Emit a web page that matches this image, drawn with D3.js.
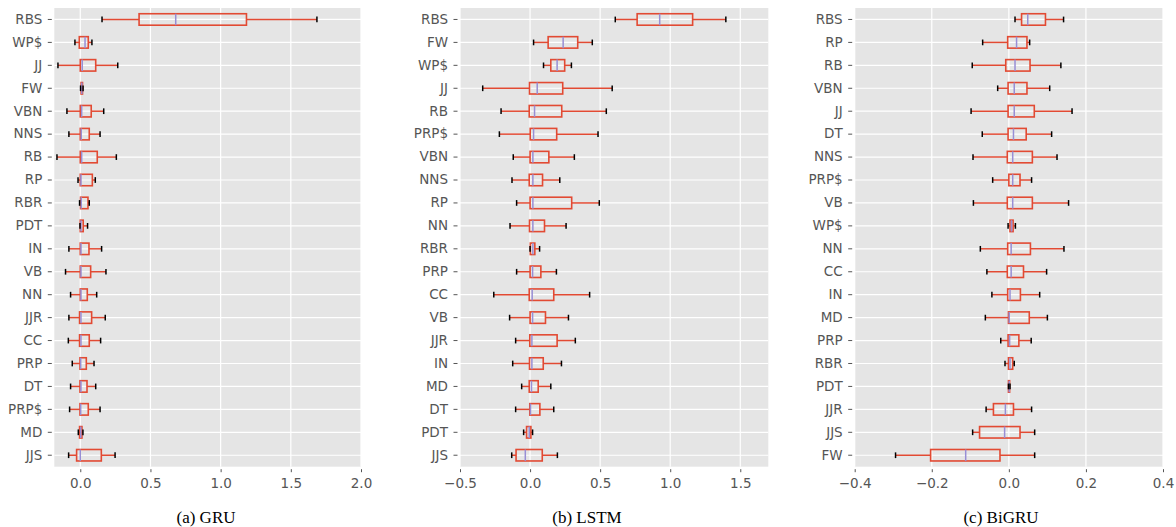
<!DOCTYPE html>
<meta charset="utf-8">
<style>
    body { margin: 0; background: #fff; }
    text { font-family: "DejaVu Sans"; fill: #555555; }
    .caption { font-family: "Liberation Serif"; fill: #000; font-size: 17px; }
</style>
<svg width="1176" height="527"></svg>
<script src="https://d3js.org/d3.v7.min.js"></script>
<script>

// (a) GRU
var gruCats = ["RBS", "WP$", "JJ", "FW", "VBN", "NNS", "RB", "RP", "RBR", "PDT",
               "IN", "VB", "NN", "JJR", "CC", "PRP", "DT", "PRP$", "MD", "JJS"];
var gruLo  = [0.155, -0.038, -0.159, 0.002, -0.095, -0.081, -0.166, -0.016, -0.005, -0.002,
              -0.081, -0.105, -0.069, -0.081, -0.085, -0.057, -0.069, -0.076, -0.014, -0.083];
var gruQ1  = [0.419, -0.007, 0.0, 0.006, 0.0, 0.0, 0.0, 0.0, 0.002, 0.0,
              0.0, 0.0, 0.0, -0.005, -0.005, -0.002, -0.002, -0.002, -0.005, -0.026];
var gruMed = [0.680, 0.034, 0.014, 0.011, 0.010, 0.007, 0.010, 0.005, 0.007, 0.005,
              0.005, 0.005, 0.005, 0.005, 0.005, 0.003, 0.005, 0.003, 0.003, 0.0];
var gruQ3  = [1.184, 0.057, 0.110, 0.016, 0.078, 0.064, 0.121, 0.086, 0.055, 0.021,
              0.062, 0.074, 0.050, 0.081, 0.064, 0.043, 0.048, 0.057, 0.012, 0.150];
var gruHi  = [1.686, 0.083, 0.267, 0.020, 0.167, 0.141, 0.257, 0.107, 0.064, 0.052,
              0.152, 0.183, 0.117, 0.178, 0.145, 0.098, 0.110, 0.141, 0.019, 0.248];
var gruTicks = [0.0, 0.5, 1.0, 1.5, 2.0];

// (b) LSTM
var lstmCats = ["RBS", "FW", "WP$", "JJ", "RB", "PRP$", "VBN", "NNS", "RP", "NN",
                "RBR", "PRP", "CC", "VB", "JJR", "IN", "MD", "DT", "PDT", "JJS"];
var lstmLo  = [0.608, 0.025, 0.096, -0.338, -0.207, -0.219, -0.120, -0.129, -0.096, -0.143,
               0.0, -0.096, -0.259, -0.146, -0.103, -0.124, -0.060, -0.103, -0.046, -0.131];
var lstmQ1  = [0.764, 0.129, 0.148, -0.004, -0.006, 0.001, 0.0, -0.006, 0.0, -0.004,
               0.002, 0.0, -0.006, 0.0, -0.002, -0.004, -0.006, -0.002, -0.025, -0.100];
var lstmMed = [0.925, 0.236, 0.193, 0.051, 0.032, 0.025, 0.020, 0.020, 0.020, 0.020,
               0.020, 0.018, 0.015, 0.018, 0.013, 0.013, 0.010, 0.003, -0.006, -0.034];
var lstmQ3  = [1.160, 0.340, 0.247, 0.233, 0.226, 0.190, 0.134, 0.089, 0.297, 0.103,
               0.034, 0.077, 0.169, 0.110, 0.193, 0.094, 0.058, 0.070, 0.006, 0.087];
var lstmHi  = [1.397, 0.444, 0.295, 0.586, 0.544, 0.485, 0.316, 0.212, 0.494, 0.257,
               0.068, 0.188, 0.425, 0.274, 0.323, 0.224, 0.148, 0.169, 0.018, 0.195];
var lstmTicks = [-0.5, 0.0, 0.5, 1.0, 1.5];

// (c) BiGRU
var bigruCats = ["RBS", "RP", "RB", "VBN", "JJ", "DT", "NNS", "PRP$", "VB", "WP$",
                 "NN", "CC", "IN", "MD", "PRP", "RBR", "PDT", "JJR", "JJS", "FW"];
var bigruLo  = [0.016, -0.068, -0.095, -0.029, -0.098, -0.069, -0.093, -0.042, -0.092, -0.002,
                -0.074, -0.057, -0.044, -0.061, -0.021, -0.010, -0.001, -0.059, -0.094, -0.294];
var bigruQ1  = [0.033, -0.003, -0.008, -0.002, -0.002, -0.002, -0.004, 0.0, -0.004, 0.003,
                -0.003, -0.004, -0.003, -0.001, -0.002, -0.001, -0.001, -0.040, -0.076, -0.203];
var bigruMed = [0.049, 0.020, 0.016, 0.014, 0.014, 0.012, 0.010, 0.010, 0.010, 0.007,
                0.006, 0.006, 0.003, 0.001, 0.002, 0.003, 0.001, -0.009, -0.011, -0.112];
var bigruQ3  = [0.095, 0.047, 0.055, 0.047, 0.066, 0.045, 0.061, 0.029, 0.061, 0.011,
                0.056, 0.038, 0.030, 0.053, 0.026, 0.010, 0.002, 0.012, 0.029, -0.023];
var bigruHi  = [0.142, 0.054, 0.135, 0.106, 0.164, 0.111, 0.125, 0.059, 0.155, 0.017,
                0.143, 0.098, 0.080, 0.100, 0.058, 0.014, 0.003, 0.059, 0.067, 0.067];
var bigruTicks = [-0.4, -0.2, 0.0, 0.2, 0.4];

var panels = [
    {cats: gruCats, lo: gruLo, q1: gruQ1, med: gruMed, q3: gruQ3, hi: gruHi, ticks: gruTicks,
     domain: [-0.185, 2.0], left: 54.3, right: 361, capX: 206, caption: "(a) GRU"},
    {cats: lstmCats, lo: lstmLo, q1: lstmQ1, med: lstmMed, q3: lstmQ3, hi: lstmHi, ticks: lstmTicks,
     domain: [-0.5, 1.7], left: 460, right: 768.3, capX: 587, caption: "(b) LSTM"},
    {cats: bigruCats, lo: bigruLo, q1: bigruQ1, med: bigruMed, q3: bigruQ3, hi: bigruHi, ticks: bigruTicks,
     domain: [-0.4, 0.4], left: 854.7, right: 1163, capX: 1001, caption: "(c) BiGRU"}
];

var svg = d3.select("svg"),
    plotTop = 8,
    plotBottom = 466.7;

panels.forEach(function(p) {
    var x = d3.scaleLinear().domain(p.domain).range([p.left, p.right]),
        y = d3.scaleBand().domain(p.cats).range([plotTop, plotBottom]),
        bw = y.bandwidth(),
        cy = function(c) { return y(c) + bw / 2; };

    var rows = p.cats.map(function(c, i) {
        return {cat: c, lo: p.lo[i], q1: p.q1[i], med: p.med[i], q3: p.q3[i], hi: p.hi[i]};
    });

    var g = svg.append("g");

    // background + grid
    g.append("rect")
        .attr("x", p.left).attr("y", plotTop)
        .attr("width", p.right - p.left).attr("height", plotBottom - plotTop)
        .attr("fill", "#E5E5E5");

    g.selectAll(".vgrid")
        .data(p.ticks)
        .enter().append("line")
        .attr("x1", function(d) { return x(d); })
        .attr("x2", function(d) { return x(d); })
        .attr("y1", plotTop).attr("y2", plotBottom)
        .attr("stroke", "#fff").attr("stroke-width", 1.2);

    g.selectAll(".hgrid")
        .data(p.cats)
        .enter().append("line")
        .attr("x1", p.left).attr("x2", p.right)
        .attr("y1", cy).attr("y2", cy)
        .attr("stroke", "#fff").attr("stroke-width", 1.2);

    // axes
    var xAxis = g.append("g")
        .attr("transform", "translate(0," + (plotBottom + 2.5) + ")")
        .call(d3.axisBottom(x).tickValues(p.ticks).tickFormat(d3.format(".1f"))
              .tickSize(3).tickPadding(6.5));
    var yAxis = g.append("g")
        .attr("transform", "translate(" + (p.left - 2.5) + ",0)")
        .call(d3.axisLeft(y).tickSize(4).tickPadding(5.5));

    [xAxis, yAxis].forEach(function(a) {
        a.select(".domain").remove();
        a.selectAll(".tick line").attr("stroke", "#555555");
        a.selectAll(".tick text")
            .attr("fill", "#555555")
            .style("font-size", "13.5px")
            .style("font-family", "DejaVu Sans");
    });

    // boxes
    var b = g.selectAll(".box")
        .data(rows)
        .enter().append("g");

    b.append("line")
        .attr("x1", function(d) { return x(d.lo); })
        .attr("x2", function(d) { return x(d.q1); })
        .attr("y1", function(d) { return cy(d.cat); })
        .attr("y2", function(d) { return cy(d.cat); })
        .attr("stroke", "#E24A33").attr("stroke-width", 1.5);

    b.append("line")
        .attr("x1", function(d) { return x(d.q3); })
        .attr("x2", function(d) { return x(d.hi); })
        .attr("y1", function(d) { return cy(d.cat); })
        .attr("y2", function(d) { return cy(d.cat); })
        .attr("stroke", "#E24A33").attr("stroke-width", 1.5);

    b.append("rect")
        .attr("x", function(d) { return x(d.q1); })
        .attr("y", function(d) { return cy(d.cat) - bw / 4; })
        .attr("width", function(d) { return Math.max(0.5, x(d.q3) - x(d.q1)); })
        .attr("height", bw / 2)
        .attr("fill", "none")
        .attr("stroke", "#E24A33").attr("stroke-width", 1.6);

    b.append("line")
        .attr("x1", function(d) { return x(d.med); })
        .attr("x2", function(d) { return x(d.med); })
        .attr("y1", function(d) { return cy(d.cat) - bw / 4; })
        .attr("y2", function(d) { return cy(d.cat) + bw / 4; })
        .attr("stroke", "#988ED5").attr("stroke-width", 1.5);

    ["lo", "hi"].forEach(function(k) {
        b.append("line")
            .attr("x1", function(d) { return x(d[k]); })
            .attr("x2", function(d) { return x(d[k]); })
            .attr("y1", function(d) { return cy(d.cat) - bw / 8; })
            .attr("y2", function(d) { return cy(d.cat) + bw / 8; })
            .attr("stroke", "#000").attr("stroke-width", 1.5);
    });

    // caption
    svg.append("text")
        .attr("class", "caption")
        .attr("x", p.capX)
        .attr("y", 523)
        .attr("text-anchor", "middle")
        .text(p.caption);
});

</script>
